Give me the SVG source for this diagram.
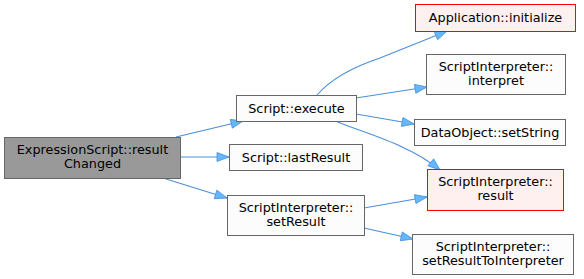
<svg xmlns="http://www.w3.org/2000/svg" width="584" height="279" viewBox="0 0 584 279">
  <style>
    .node rect { fill: #fbfcfb; stroke: #666666; stroke-width: 1; }
    .node.root rect { fill: #999999; }
    .node.hot rect { fill: #fff0f0; stroke: #ff0000; }
    .node text { font-family: "DejaVu Sans", sans-serif; font-size: 12.8px; fill: #000000; text-anchor: middle; }
    .edge { fill: none; stroke: #4b8fd6; stroke-width: 1.1; marker-end: url(#arrow); }
  </style>
  <defs>
    <marker id="arrow" markerUnits="userSpaceOnUse" markerWidth="14" markerHeight="11" refX="13" refY="5.5" orient="auto">
      <path d="M1,1 L13,5.5 L1,10 Z" fill="#63b8ff" stroke="#4b8fd6" stroke-width="0.8"/>
    </marker>
  </defs>

  <g id="connectors">
    <path class="edge" d="M176,137 L243,121"/>
    <path class="edge" d="M180,157 L229,157"/>
    <path class="edge" d="M163,178 L227,198"/>
    <path class="edge" d="M317,95 C330,80 350,68 380,58 C400,50 425,40 447,31"/>
    <path class="edge" d="M356,98 L427,87"/>
    <path class="edge" d="M356,114 L414,124"/>
    <path class="edge" d="M335,121 C370,135 410,145 440,170"/>
    <path class="edge" d="M364,208 L427,197"/>
    <path class="edge" d="M364,228 L413,239"/>
  </g>

  <g id="node-resultChanged" class="node root">
    <rect x="4.5" y="137.5" width="176" height="41"/>
    <text x="92.5" y="154">ExpressionScript::result</text>
    <text x="92.5" y="168">Changed</text>
  </g>
  <g id="node-execute" class="node">
    <rect x="236.5" y="95.5" width="120" height="26"/>
    <text x="296.5" y="112.5">Script::execute</text>
  </g>
  <g id="node-lastResult" class="node">
    <rect x="229.5" y="144.5" width="133" height="26"/>
    <text x="296" y="161.5">Script::lastResult</text>
  </g>
  <g id="node-setResult" class="node">
    <rect x="227.5" y="195.5" width="137" height="40"/>
    <text x="296" y="212">ScriptInterpreter::</text>
    <text x="296" y="226">setResult</text>
  </g>
  <g id="node-initialize" class="node hot">
    <rect x="415.5" y="4.5" width="160" height="27"/>
    <text x="495.5" y="22">Application::initialize</text>
  </g>
  <g id="node-interpret" class="node">
    <rect x="426.5" y="54.5" width="139" height="40"/>
    <text x="496" y="71">ScriptInterpreter::</text>
    <text x="496" y="85">interpret</text>
  </g>
  <g id="node-setString" class="node">
    <rect x="414.5" y="119.5" width="151" height="26"/>
    <text x="490" y="136.5">DataObject::setString</text>
  </g>
  <g id="node-result" class="node hot">
    <rect x="427.5" y="169.5" width="136" height="41"/>
    <text x="495.5" y="186">ScriptInterpreter::</text>
    <text x="495.5" y="200">result</text>
  </g>
  <g id="node-setResultToInterpreter" class="node">
    <rect x="412.5" y="234.5" width="161" height="40"/>
    <text x="493" y="251">ScriptInterpreter::</text>
    <text x="493" y="265">setResultToInterpreter</text>
  </g>
</svg>
